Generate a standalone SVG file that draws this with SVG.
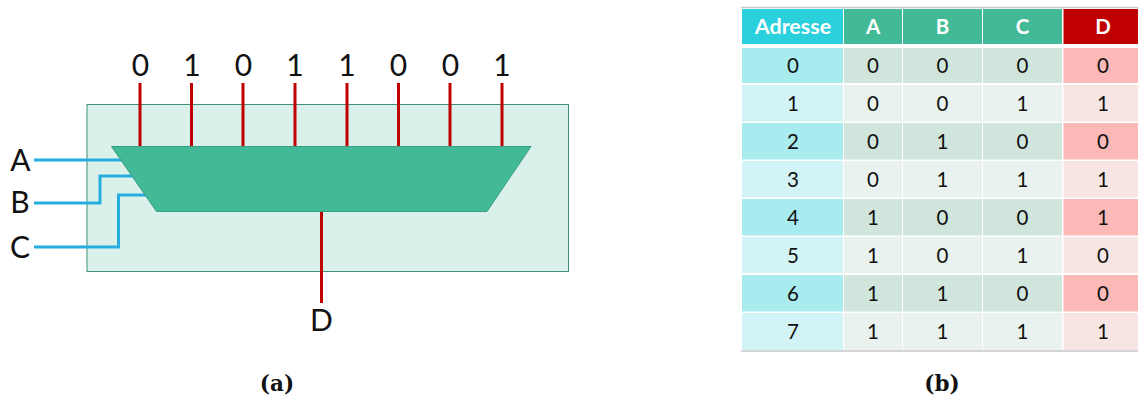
<svg xmlns="http://www.w3.org/2000/svg" width="1138" height="398" viewBox="0 0 1138 398">
<style>
text{font-family:Lato,"Noto Sans",sans-serif;text-anchor:middle;fill:#111}
.l{font-size:30px}
.t{font-size:20.500px}
.h{font-size:20.500px;font-weight:700;fill:#fff}
.hw{font-size:21.500px;font-weight:700;fill:#fff}
.cap{font-family:"DejaVu Serif",serif;font-weight:700;font-size:21.500px}
.red{stroke:#c00000;stroke-width:3;fill:none}
.blue{stroke:#25ade0;stroke-width:3;fill:none}
.ca{fill:#a8ecf0}.cb{fill:#d3f4f6}.ga{fill:#d0e6dd}.gb{fill:#e9f2ef}.ra{fill:#fdb8b8}.rb{fill:#f7e5e3}
</style>
<g id="panel-a-bg"><rect x="87" y="104.500" width="481.500" height="167" fill="#daf0ea" stroke="#3f9079" stroke-width="1"/></g>
<g id="connectors">
<path class="red" d="M140 83V147M191.500 83V147M243 83V147M295 83V147M347 83V147M398.500 83V147M450 83V147M502 83V147M321.500 211V303"/>
<path class="blue" d="M34 160H122M34 203H100V176H134M34 247H118.500V195H147"/>
</g>
<g id="mux"><path d="M111.500 146.500H531L487 211.500H156.500Z" fill="#43ba97" stroke="#3a9e82" stroke-width="1"/></g>
<g id="bits">
<text class="l" x="140.500" y="76">0</text><text class="l" x="192" y="76">1</text><text class="l" x="243.500" y="76">0</text><text class="l" x="295" y="76">1</text><text class="l" x="347" y="76">1</text><text class="l" x="398.500" y="76">0</text><text class="l" x="450.500" y="76">0</text><text class="l" x="502" y="76">1</text>
</g>
<g id="inputs"><text class="l" x="20.500" y="171">A</text><text class="l" x="20" y="213">B</text><text class="l" x="20" y="258">C</text></g>
<g id="output"><text class="l" x="321.500" y="331">D</text></g>
<text class="cap" x="277" y="391">(a)</text>
<g id="table">
<path d="M741 7.500H1138M741 351H1138" stroke="#c8c8c8" stroke-width="1.500" fill="none"/>
<rect x="742" y="9" width="101" height="35" fill="#2ad0dc"/>
<rect x="844" y="9" width="58" height="35" fill="#43ba97"/>
<rect x="903" y="9" width="79" height="35" fill="#43ba97"/>
<rect x="983" y="9" width="79" height="35" fill="#43ba97"/>
<rect x="1063.500" y="9" width="74.500" height="35" fill="#c00000"/>
<text class="hw" x="793" y="34">Adresse</text><text class="h" x="873" y="34">A</text><text class="h" x="942.500" y="34">B</text><text class="h" x="1022.500" y="34">C</text><text class="h" x="1103" y="34">D</text>
<g id="row0"><rect class="ca" x="742" y="48" width="101" height="35"/><rect class="ga" x="844" y="48" width="58" height="35"/><rect class="ga" x="903" y="48" width="79" height="35"/><rect class="ga" x="983" y="48" width="79" height="35"/><rect class="ra" x="1063.500" y="48" width="74.500" height="35"/>
<text class="t" x="793" y="73">0</text><text class="t" x="873" y="73">0</text><text class="t" x="942.500" y="73">0</text><text class="t" x="1022.500" y="73">0</text><text class="t" x="1103" y="73">0</text></g>
<g id="row1"><rect class="cb" x="742" y="85" width="101" height="36.500"/><rect class="gb" x="844" y="85" width="58" height="36.500"/><rect class="gb" x="903" y="85" width="79" height="36.500"/><rect class="gb" x="983" y="85" width="79" height="36.500"/><rect class="rb" x="1063.500" y="85" width="74.500" height="36.500"/>
<text class="t" x="793" y="111">1</text><text class="t" x="873" y="111">0</text><text class="t" x="942.500" y="111">0</text><text class="t" x="1022.500" y="111">1</text><text class="t" x="1103" y="111">1</text></g>
<g id="row2"><rect class="ca" x="742" y="123" width="101" height="36.500"/><rect class="ga" x="844" y="123" width="58" height="36.500"/><rect class="ga" x="903" y="123" width="79" height="36.500"/><rect class="ga" x="983" y="123" width="79" height="36.500"/><rect class="ra" x="1063.500" y="123" width="74.500" height="36.500"/>
<text class="t" x="793" y="149">2</text><text class="t" x="873" y="149">0</text><text class="t" x="942.500" y="149">1</text><text class="t" x="1022.500" y="149">0</text><text class="t" x="1103" y="149">0</text></g>
<g id="row3"><rect class="cb" x="742" y="161" width="101" height="36.500"/><rect class="gb" x="844" y="161" width="58" height="36.500"/><rect class="gb" x="903" y="161" width="79" height="36.500"/><rect class="gb" x="983" y="161" width="79" height="36.500"/><rect class="rb" x="1063.500" y="161" width="74.500" height="36.500"/>
<text class="t" x="793" y="187">3</text><text class="t" x="873" y="187">0</text><text class="t" x="942.500" y="187">1</text><text class="t" x="1022.500" y="187">1</text><text class="t" x="1103" y="187">1</text></g>
<g id="row4"><rect class="ca" x="742" y="199" width="101" height="36.500"/><rect class="ga" x="844" y="199" width="58" height="36.500"/><rect class="ga" x="903" y="199" width="79" height="36.500"/><rect class="ga" x="983" y="199" width="79" height="36.500"/><rect class="ra" x="1063.500" y="199" width="74.500" height="36.500"/>
<text class="t" x="793" y="225">4</text><text class="t" x="873" y="225">1</text><text class="t" x="942.500" y="225">0</text><text class="t" x="1022.500" y="225">0</text><text class="t" x="1103" y="225">1</text></g>
<g id="row5"><rect class="cb" x="742" y="237" width="101" height="36"/><rect class="gb" x="844" y="237" width="58" height="36"/><rect class="gb" x="903" y="237" width="79" height="36"/><rect class="gb" x="983" y="237" width="79" height="36"/><rect class="rb" x="1063.500" y="237" width="74.500" height="36"/>
<text class="t" x="793" y="263">5</text><text class="t" x="873" y="263">1</text><text class="t" x="942.500" y="263">0</text><text class="t" x="1022.500" y="263">1</text><text class="t" x="1103" y="263">0</text></g>
<g id="row6"><rect class="ca" x="742" y="275" width="101" height="36.500"/><rect class="ga" x="844" y="275" width="58" height="36.500"/><rect class="ga" x="903" y="275" width="79" height="36.500"/><rect class="ga" x="983" y="275" width="79" height="36.500"/><rect class="ra" x="1063.500" y="275" width="74.500" height="36.500"/>
<text class="t" x="793" y="301">6</text><text class="t" x="873" y="301">1</text><text class="t" x="942.500" y="301">1</text><text class="t" x="1022.500" y="301">0</text><text class="t" x="1103" y="301">0</text></g>
<g id="row7"><rect class="cb" x="742" y="313" width="101" height="37"/><rect class="gb" x="844" y="313" width="58" height="37"/><rect class="gb" x="903" y="313" width="79" height="37"/><rect class="gb" x="983" y="313" width="79" height="37"/><rect class="rb" x="1063.500" y="313" width="74.500" height="37"/>
<text class="t" x="793" y="339">7</text><text class="t" x="873" y="339">1</text><text class="t" x="942.500" y="339">1</text><text class="t" x="1022.500" y="339">1</text><text class="t" x="1103" y="339">1</text></g>
</g>
<text class="cap" x="942" y="391">(b)</text>
</svg>
